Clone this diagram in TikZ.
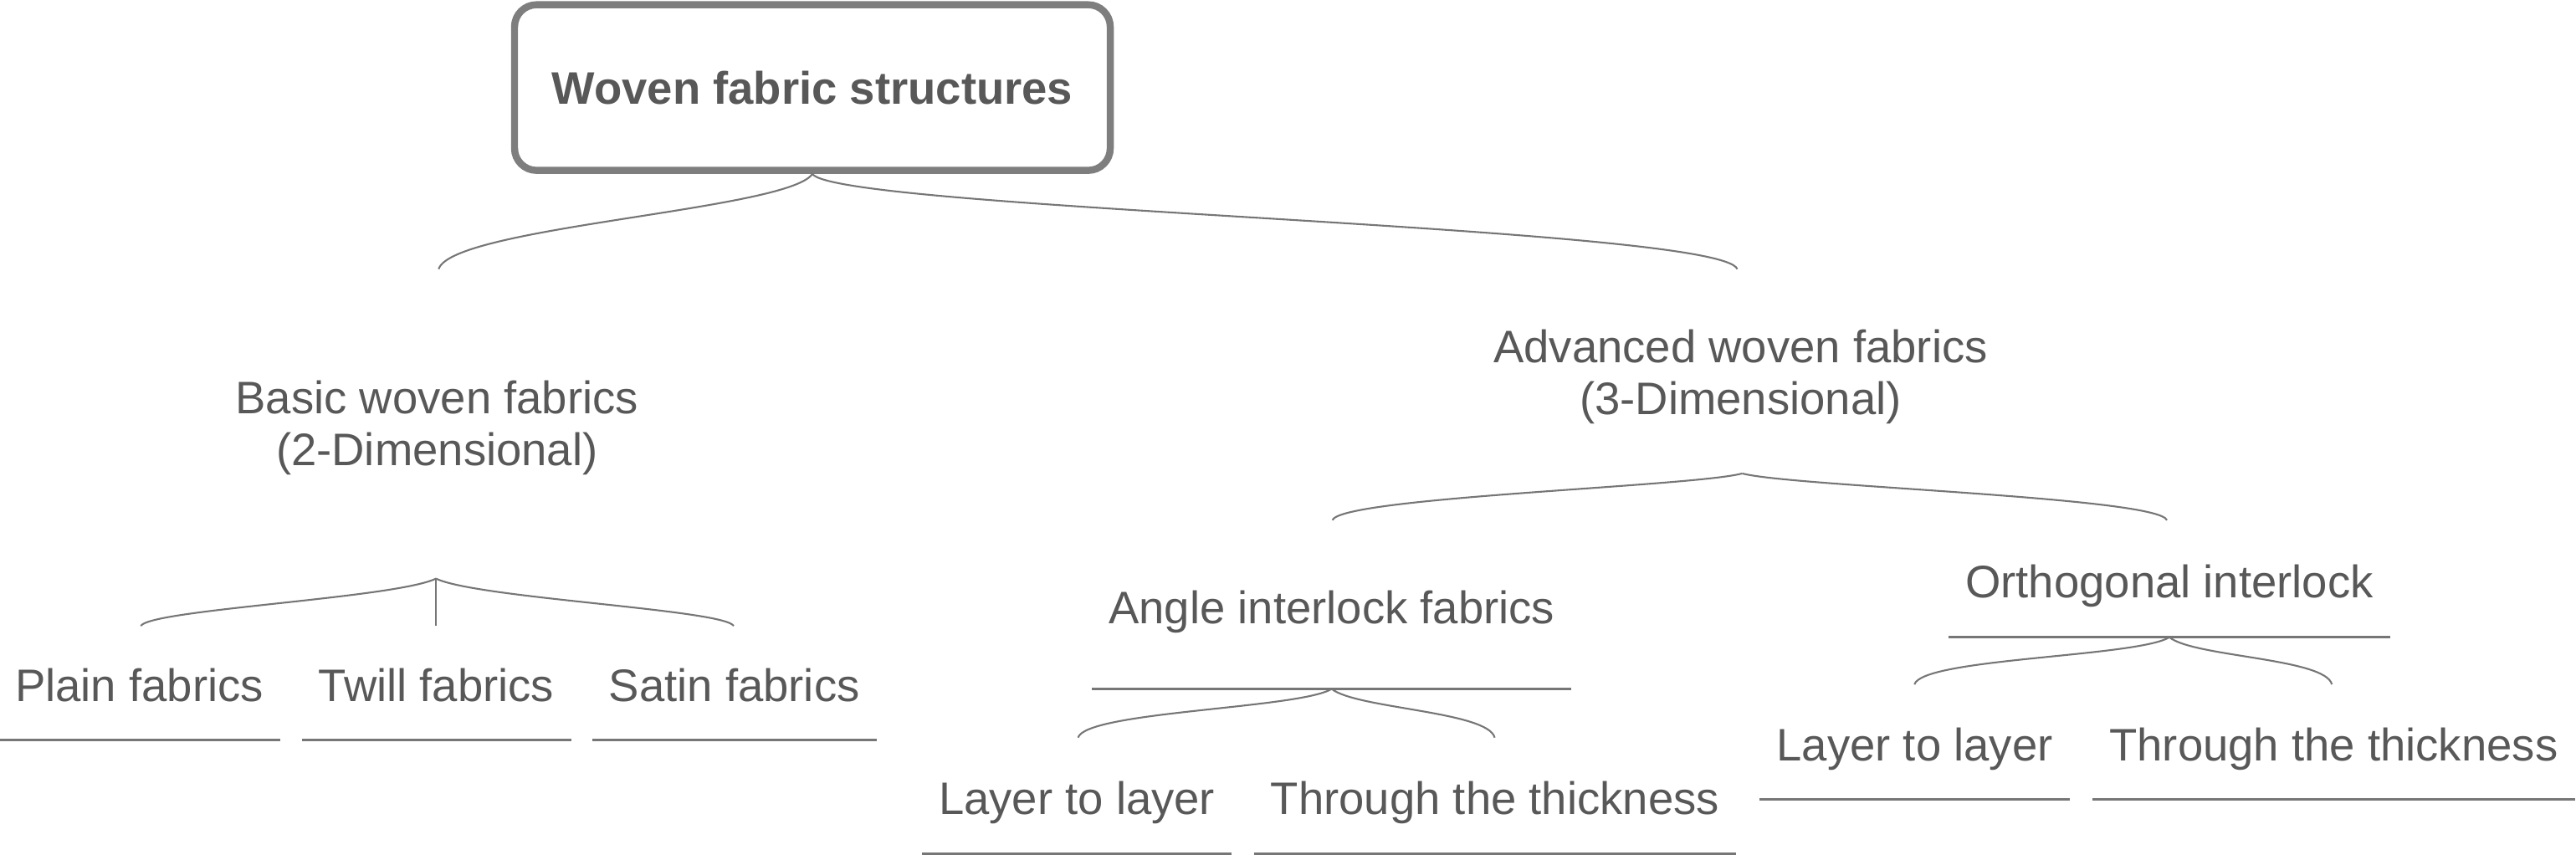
\documentclass[tikz,border=0pt]{standalone}
\usepackage{fontspec}
\setmainfont{Liberation Sans}
\definecolor{txtcol}{HTML}{585858}
\definecolor{linecol}{HTML}{767676}
\definecolor{boxcol}{HTML}{7E7E7E}
\tikzset{
  lbl/.style={text=txtcol,font=\fontsize{15.5}{17.8}\selectfont,inner sep=0pt},
  rootbox/.style={lbl,draw=boxcol,line width=2.4pt,rounded corners=7.5pt,
    minimum width=71.2mm,minimum height=19.8mm,
    font=\fontsize{15.5}{17.8}\selectfont\bfseries},
  leaf/.style={lbl,anchor=base,inner xsep=1.95mm,text height=3mm,text depth=4.61mm},
  brace/.style={linecol,line width=0.6pt},
  uline/.style={linecol,line width=0.85pt},
}

\begin{document}
\begin{tikzpicture}[x=0.19637mm,y=0.19637mm]
  \useasboundingbox (0,0) rectangle (1568,-520);

  % NODES
  \node[rootbox] (root) at (494.5,-53.3) {Woven fabric structures};
  \node[lbl,align=center,anchor=north] (basic) at (266,-231.2)
    {Basic woven fabrics\\(2-Dimensional)};
  \node[lbl,align=center,anchor=north] (adv) at (1059.5,-200.1)
    {Advanced woven fabrics\\(3-Dimensional)};

  \node[leaf] (plain) at (84.8,-426.8) {Plain fabrics};
  \node[leaf] (twill) at (265.6,-426.8) {Twill fabrics};
  \node[leaf] (satin) at (447,-426.8) {Satin fabrics};

  \node[leaf,text depth=7.72mm] (angle) at (810.6,-379.7) {Angle interlock fabrics};
  \node[leaf] (lla) at (655.5,-495.7) {Layer to layer};
  \node[leaf] (tta) at (910,-495.7) {Through the thickness};

  \node[leaf] (ortho) at (1320.5,-364.1) {Orthogonal interlock};
  \node[leaf] (llb) at (1165.5,-463) {Layer to layer};
  \node[leaf] (ttb) at (1420.5,-463) {Through the thickness};

  % FORK POINTS
  \coordinate (basic-top)  at (267,-163.8);
  \coordinate (adv-top)    at (1057.5,-163.8);
  \coordinate (adv-fork)   at (1060.5,-288.2);
  \coordinate (angle-top)  at (811,-316.6);
  \coordinate (ortho-top)  at (1319,-316.6);
  \coordinate (basic-fork) at (265.4,-352.2);
  \coordinate (plain-top)  at (85.7,-381);
  \coordinate (twill-top)  at (265.4,-381);
  \coordinate (satin-top)  at (446.6,-381);
  \coordinate (lla-top)    at (656.2,-449);
  \coordinate (tta-top)    at (909.8,-449);
  \coordinate (llb-top)    at (1165.3,-416.6);
  \coordinate (ttb-top)    at (1419.4,-416.6);

  % BRACES
  \draw[brace] (root.south) .. controls +(-14.5,-22) and +(8,25.8) .. (basic-top);
  \draw[brace] (root.south) .. controls +(15,-22) and +(-10,26) .. (adv-top);

  \draw[brace] (adv-fork) .. controls +(-30,-8) and +(6,14) .. (angle-top);
  \draw[brace] (adv-fork) .. controls +(30,-8) and +(-6,14) .. (ortho-top);

  \draw[brace] (basic-fork) .. controls +(-25,-12) and +(6,10) .. (plain-top);
  \draw[brace] (basic-fork) -- (twill-top);
  \draw[brace] (basic-fork) .. controls +(25,-12) and +(-6,10) .. (satin-top);

  \draw[brace] (angle.south) .. controls +(-20,-12) and +(5,16) .. (lla-top);
  \draw[brace] (angle.south) .. controls +(15,-12) and +(-4,16) .. (tta-top);

  \draw[brace] (ortho.south) .. controls +(-20,-12) and +(5,16) .. (llb-top);
  \draw[brace] (ortho.south) .. controls +(15,-12) and +(-4,16) .. (ttb-top);

  % UNDERLINES
  \foreach \n in {plain,twill,satin,angle,lla,tta,ortho,llb,ttb}
    \draw[uline] (\n.south west) -- (\n.south east);

\end{tikzpicture}
\end{document}
